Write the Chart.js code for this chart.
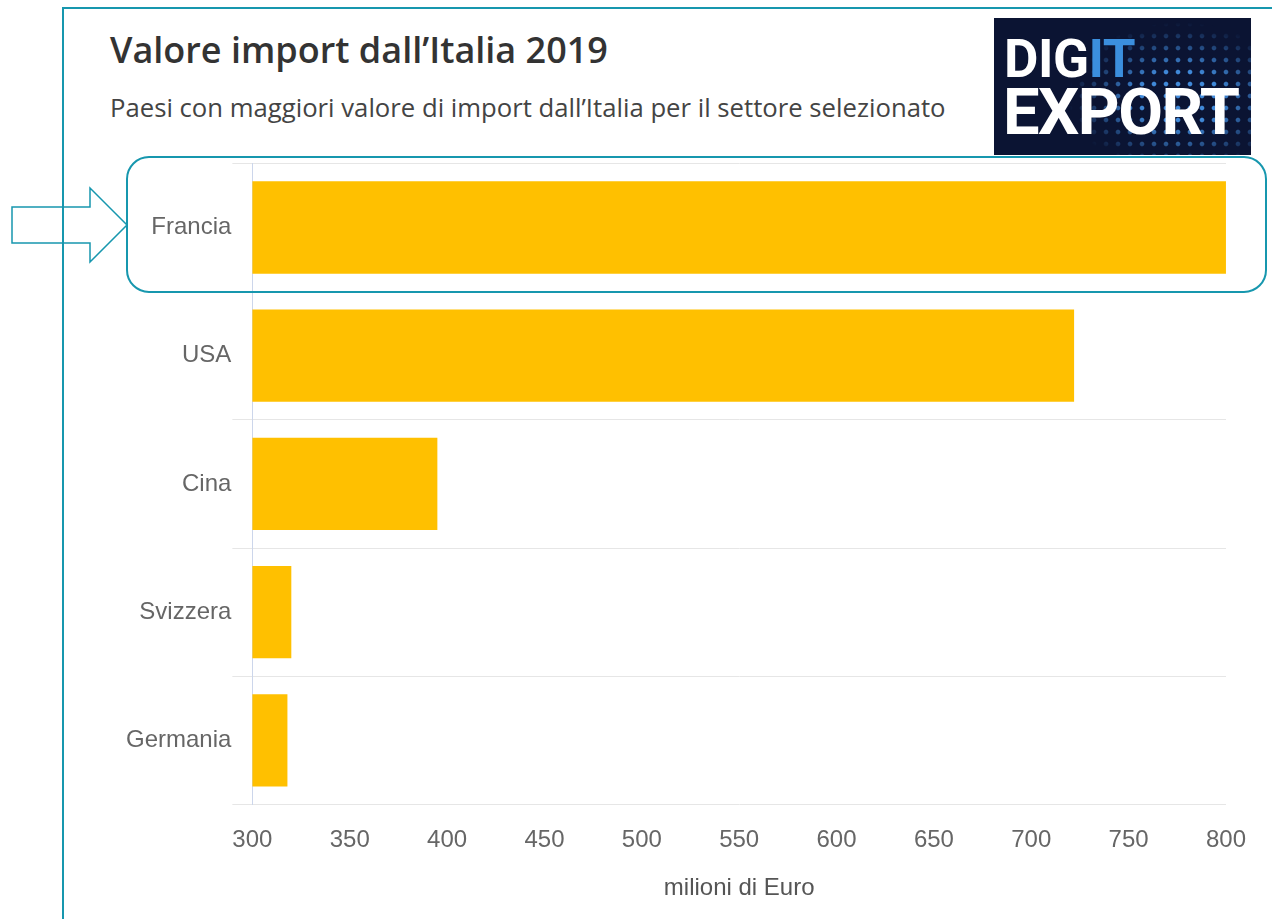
<!DOCTYPE html>
<html>
<head>
<meta charset="utf-8">
<script src="https://cdn.jsdelivr.net/npm/chart.js@4/dist/chart.umd.min.js"></script>
<style>
	html, body { margin: 0; padding: 0; background: #fff; }
	body { width: 1272px; height: 919px; position: relative; overflow: hidden; }
	#title { position: absolute; left: 110px; top: 25px; font: 600 36px "Open Sans", sans-serif; color: #333; white-space: nowrap; }
	#subtitle { position: absolute; left: 110px; top: 90px; font: 400 25.7px "Open Sans", sans-serif; color: #444; white-space: nowrap; }
	#logo { position: absolute; left: 994px; top: 18px; width: 257px; height: 137px; background: #0b1433; overflow: hidden; }
	#logo .dots { position: absolute; left: 70px; top: 0; width: 187px; height: 137px;
		background-image: radial-gradient(circle, rgba(70,150,235,0.9) 1.8px, rgba(70,150,235,0) 2.8px);
		background-size: 12px 12px;
		-webkit-mask-image: radial-gradient(ellipse 60% 55% at 62% 58%, #000 35%, transparent 100%);
		mask-image: radial-gradient(ellipse 60% 55% at 62% 58%, #000 35%, transparent 100%); }
	#logo .l1 { position: absolute; left: 10px; top: 15px; font: 700 53px Roboto, sans-serif; line-height: 1; color: #fff; letter-spacing: -0.5px; }
	#logo .l1 span { color: #3b8fde; }
	#logo .l2 { position: absolute; left: 9px; top: 62px; font: 700 65px Roboto, sans-serif; line-height: 1; color: #fff; letter-spacing: -1.5px; }
	#wrap { position: absolute; left: 100px; top: 148px; width: 1168px; height: 764px; }
	#deco { position: absolute; left: 0; top: 0; pointer-events: none; }
</style>
</head>
<body>
<div id="title">Valore import dall’Italia 2019</div>
<div id="subtitle">Paesi con maggiori valore di import dall’Italia per il settore selezionato</div>
<div id="logo"><div class="dots"></div><div class="l1">DIG<span>IT</span></div><div class="l2">EXPORT</div></div>
<div id="wrap"><canvas id="chart"></canvas></div>
<svg id="deco" width="1272" height="919">
	<path d="M63 919 V8 H1272" fill="none" stroke="#1797ae" stroke-width="2"/>
	<rect x="127" y="157" width="1139" height="135" rx="22" ry="22" fill="none" stroke="#1797ae" stroke-width="2"/>
	<polygon points="12,207 90,207 90,188 127,225 90,262 90,243 12,243" fill="none" stroke="#1797ae" stroke-width="1.5"/>
</svg>
<script>
// dati
const paesi = ['Francia', 'USA', 'Cina', 'Svizzera', 'Germania'];
const valori = [800, 722, 395, 320, 318];
const tickMin = 300;
const tickMax = 800;
const tickStep = 50;
const titoloAsse = 'milioni di Euro';

Chart.defaults.font.family = '"Liberation Sans", Arial, sans-serif';
Chart.defaults.color = '#666';

new Chart(document.getElementById('chart'), {
	type: 'bar',
	data: {
		labels: paesi,
		datasets: [{
			data: valori,
			backgroundColor: '#ffc000',
			borderWidth: 0,
			categoryPercentage: 1,
			barPercentage: 0.72
		}]
	},
	options: {
		indexAxis: 'y',
		responsive: true,
		maintainAspectRatio: false,
		animation: false,
		layout: { padding: { top: 13, left: 25, right: 0, bottom: 5 } },
		plugins: { legend: { display: false }, tooltip: { enabled: false } },
		scales: {
			x: {
				min: tickMin,
				max: tickMax,
				ticks: { stepSize: tickStep, padding: 22, font: { size: 24 }, color: '#666' },
				grid: { display: false, drawTicks: false },
				border: { display: false },
				title: { display: true, text: titoloAsse, font: { size: 24 }, color: '#555', padding: { top: -3, bottom: 4 } }
			},
			y: {
				ticks: { padding: 1, font: { size: 24 }, color: '#666' },
				grid: { color: '#e6e6e6', tickLength: 20, offset: true },
				border: { display: true, color: '#ccd6eb', width: 1 }
			}
		}
	}
});
</script>
</body>
</html>
